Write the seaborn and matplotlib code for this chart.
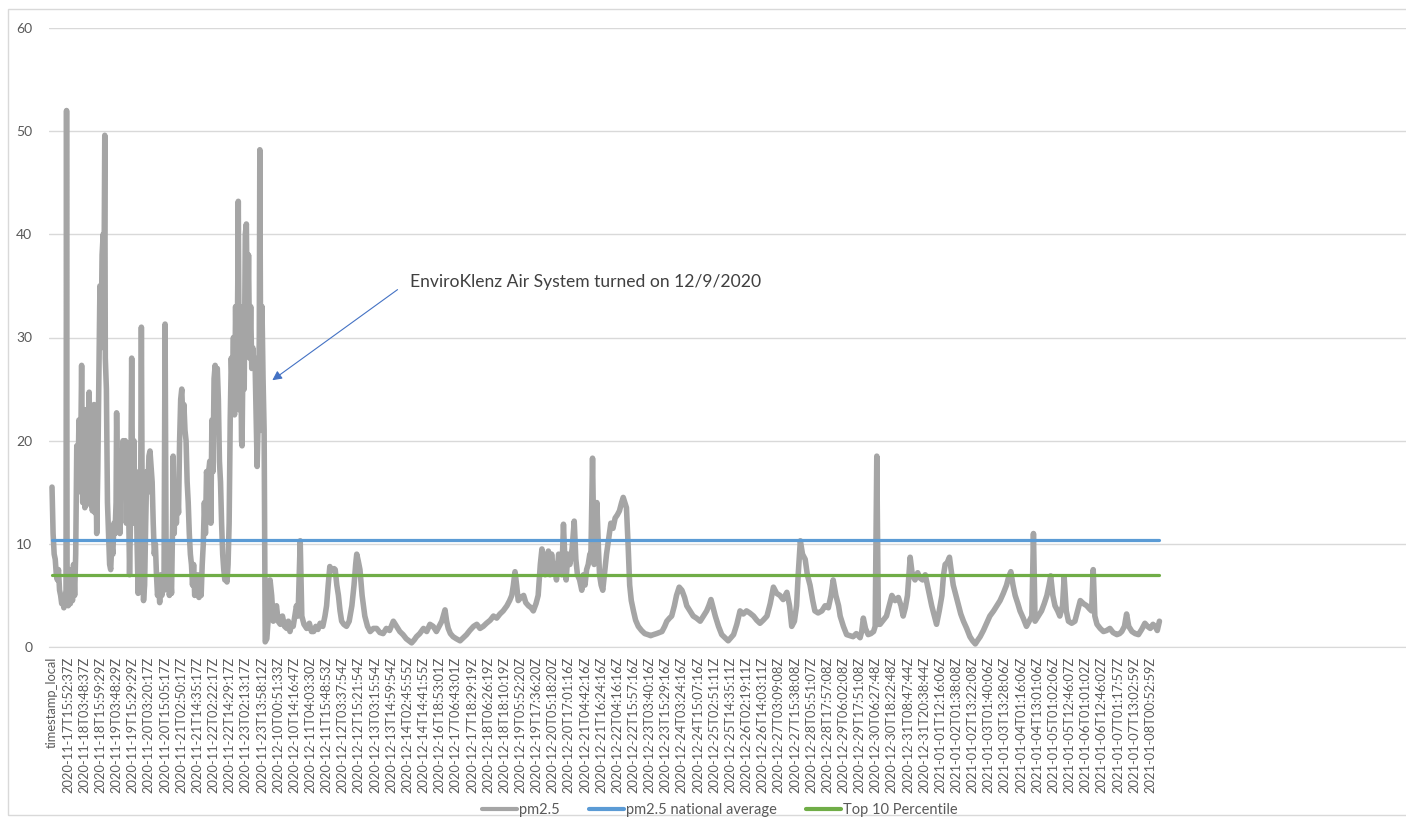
import matplotlib
matplotlib.use('Agg')
import matplotlib.pyplot as plt
from matplotlib.patches import Rectangle
from matplotlib.lines import Line2D
import seaborn as sns
import pandas as pd

# pm2.5 readings as (reading number, value); tick labels every 30 readings
pm25_nov = [
    (0, 15.5), (2, 11), (4, 9), (6, 8.5), (8, 7), (10, 6.5), (12, 7.5), (14, 5.5), (16, 5), (18, 4.2),
    (20, 4.8), (22, 3.8), (24, 4.5), (26, 5.5), (27, 52), (28, 6), (30, 4), (32, 7.5), (34, 4.2), (36, 6.5),
    (38, 4.5), (40, 8), (42, 5), (44, 9), (46, 19.5), (48, 15), (50, 22), (52, 17), (54, 22.5), (55, 27.3),
    (57, 14), (59, 21), (61, 13.5), (63, 23), (65, 14), (67, 21), (69, 24.7), (71, 13.8), (73, 20), (75, 13.2),
    (77, 21), (78, 23.5), (80, 13), (82, 16), (83, 11), (85, 17), (87, 26), (89, 35), (91, 29), (93, 38),
    (95, 40), (96, 30), (98, 49.6), (99, 28), (101, 25), (103, 14), (105, 11), (107, 8), (109, 7.5), (111, 10),
    (113, 9), (115, 12), (117, 11), (119, 14), (120, 22.7), (122, 13), (124, 17), (126, 11), (128, 19), (130, 16),
    (132, 20), (134, 17), (136, 20), (138, 12), (140, 19.8), (142, 15), (144, 7), (146, 13), (148, 28), (150, 12),
    (152, 20), (154, 13), (156, 17), (158, 10), (160, 5.2), (162, 11), (164, 7), (166, 31), (168, 8), (170, 4.5),
    (172, 6), (174, 12), (176, 17), (178, 15), (180, 18.5), (182, 19), (184, 17.5), (186, 16), (188, 12), (190, 9),
    (192, 10), (194, 7), (196, 5), (198, 6), (200, 4.3), (202, 7), (204, 5), (206, 7), (208, 5.5), (210, 31.3),
    (212, 8), (214, 6), (216, 10), (218, 5), (220, 7), (222, 5.2), (224, 12), (225, 18.5), (227, 11), (229, 16),
    (231, 12), (233, 15), (235, 13), (237, 20), (239, 24), (241, 25), (243, 22), (245, 23.5), (247, 21), (249, 20),
    (251, 16), (253, 14), (255, 11), (257, 9), (259, 8), (261, 6), (263, 8), (265, 5), (267, 6.5), (269, 5),
    (271, 7), (273, 4.8), (275, 6), (277, 5), (279, 8), (281, 10), (283, 14), (285, 11), (287, 17), (289, 16),
    (291, 17), (293, 18), (295, 12), (297, 22), (299, 17), (301, 26), (303, 27.3), (305, 26), (307, 27), (309, 24),
    (311, 18), (313, 16), (315, 12), (317, 9), (319, 7.5), (321, 6.5), (323, 7), (325, 6.3), (327, 8), (329, 12),
    (331, 22), (333, 28), (335, 25), (337, 30), (339, 22.5), (341, 33), (343, 24), (345, 35), (346, 43.2), (348, 23),
    (350, 33), (352, 20), (353, 19.5), (355, 30), (357, 25), (359, 40), (361, 41), (363, 30), (365, 38), (367, 28),
    (369, 33), (371, 27), (373, 29), (375, 27), (377, 28), (379, 23), (381, 17.5), (383, 22), (385, 30), (386, 48.2),
    (388, 21), (390, 33), (392, 26), (394, 21), (396, 0.5),
]

pm25_dec = [
    (399, 0.8), (402, 3), (405, 6.5), (408, 5), (411, 2.5), (414, 3.5), (417, 4), (420, 2.5), (424, 2.2), (428, 3),
    (432, 2), (436, 1.8), (439, 2.5), (442, 1.5), (445, 2.2), (448, 2), (451, 3), (454, 4), (457, 3), (461, 10.3),
    (464, 3), (468, 2.2), (473, 1.8), (478, 2.3), (482, 1.5), (486, 1.5), (490, 2), (494, 1.7), (498, 2.3), (503, 2),
    (507, 3), (510, 4), (513, 6), (516, 7.8), (520, 7.4), (524, 7.6), (526, 7.5), (529, 6), (532, 5), (535, 3.5),
    (538, 2.5), (542, 2.2), (547, 2), (552, 2.5), (557, 4), (561, 6), (564, 8), (566, 9), (569, 8.3), (572, 7.5),
    (576, 5), (581, 3), (586, 2), (591, 1.5), (597, 1.8), (603, 1.8), (609, 1.4), (615, 1.3), (621, 1.8), (627, 1.6),
    (634, 2.5), (640, 2), (646, 1.5), (652, 1.2), (658, 0.8), (663, 0.6), (668, 0.4), (673, 0.7), (677, 1), (683, 1.3),
    (690, 1.8), (696, 1.5), (702, 2.2), (708, 2), (714, 1.5), (719, 2), (724, 2.5), (730, 3.6), (733, 2.5), (736, 1.8),
    (740, 1.3), (745, 1), (751, 0.8), (758, 0.6), (764, 0.9), (770, 1.2), (776, 1.6), (783, 2), (789, 2.2), (795, 1.8),
    (801, 2), (807, 2.3), (814, 2.6), (820, 3), (826, 2.8), (832, 3.2), (838, 3.5), (845, 4), (850, 4.5), (854, 5),
    (857, 6), (860, 7.3), (863, 6), (866, 4.5), (871, 4.8), (876, 5), (880, 4.3), (885, 4), (890, 3.8), (894, 3.5),
    (899, 4.2), (903, 5), (907, 8), (910, 9.5), (913, 7.5), (916, 7), (919, 8.5), (922, 9.3), (925, 7), (928, 9),
    (931, 7.5), (934, 8), (937, 6.5), (941, 9), (944, 8.5), (947, 7), (950, 11.9), (953, 8), (955, 6.5), (958, 9),
    (962, 8), (966, 9.5), (970, 12.2), (973, 8.5), (976, 7), (980, 6.5), (984, 5.5), (987, 7), (990, 6), (993, 7.5),
    (996, 8), (999, 9), (1001, 9), (1004, 18.3), (1007, 8), (1009, 10), (1012, 14), (1015, 9.5), (1017, 7), (1020, 6),
    (1023, 5.5), (1026, 7), (1030, 9), (1034, 10.5), (1038, 12), (1042, 11.5), (1046, 12.5), (1050, 12.8), (1054, 13.2),
    (1058, 14), (1061, 14.5), (1064, 14), (1067, 13.5), (1070, 10), (1073, 6), (1076, 4.5), (1080, 3.5), (1084, 2.6),
    (1089, 2), (1095, 1.6), (1101, 1.3), (1107, 1.2), (1112, 1.1), (1117, 1.2), (1123, 1.3), (1128, 1.4), (1133, 1.5),
    (1138, 2), (1142, 2.5), (1147, 2.8), (1151, 3), (1156, 4), (1160, 5), (1165, 5.8), (1170, 5.5), (1175, 4.8),
    (1179, 4), (1185, 3.5), (1191, 3), (1197, 2.8), (1204, 2.5), (1210, 3), (1216, 3.5), (1220, 4), (1224, 4.6),
    (1228, 3.8), (1232, 3), (1238, 2), (1244, 1.2), (1250, 0.9), (1256, 0.6), (1261, 0.9), (1266, 1.2), (1272, 2.2),
    (1278, 3.5), (1284, 3.2), (1290, 3.5), (1296, 3.3), (1303, 3), (1309, 2.6), (1315, 2.3), (1321, 2.6), (1328, 3),
    (1334, 4.2), (1340, 5.8), (1346, 5.2), (1352, 5), (1358, 4.6), (1365, 5.3), (1370, 4), (1374, 2), (1379, 2.5),
    (1383, 4), (1386, 7), (1390, 10.3), (1394, 9), (1399, 8.5), (1403, 7), (1408, 6), (1413, 4.5), (1417, 3.5),
    (1423, 3.3), (1430, 3.5), (1436, 4), (1442, 3.8), (1447, 5), (1451, 6.5), (1456, 5), (1461, 4), (1464, 3),
    (1470, 2),
]

pm25_jan = [
    (1476, 1.2), (1482, 1.1), (1488, 1), (1494, 1.3), (1501, 0.9), (1504, 1.5), (1507, 2.8), (1511, 1.8), (1516, 1.2),
    (1521, 1.3), (1526, 1.5), (1529, 2), (1532, 18.5), (1535, 2.2), (1538, 2.2), (1544, 2.6), (1550, 3), (1555, 4),
    (1560, 5), (1566, 4.5), (1572, 4.8), (1577, 4), (1581, 3), (1585, 3.8), (1589, 5), (1594, 8.7), (1598, 7),
    (1603, 6.5), (1608, 7.2), (1612, 6.7), (1617, 6.5), (1622, 7), (1628, 5.5), (1634, 4), (1639, 3), (1643, 2.2),
    (1648, 3.5), (1653, 5), (1656, 7), (1659, 8), (1663, 8.2), (1667, 8.7), (1670, 7.5), (1674, 6), (1679, 5),
    (1684, 4), (1688, 3.2), (1693, 2.5), (1699, 1.8), (1705, 1), (1710, 0.6), (1715, 0.3), (1720, 0.7), (1724, 1),
    (1730, 1.6), (1736, 2.3), (1742, 3), (1749, 3.5), (1755, 4), (1761, 4.5), (1767, 5.2), (1773, 6), (1777, 6.8),
    (1781, 7.3), (1785, 6), (1789, 5), (1794, 4.2), (1798, 3.5), (1804, 2.8), (1810, 2), (1815, 2.5), (1820, 3),
    (1823, 11), (1826, 2.5), (1832, 3), (1838, 3.5), (1843, 4.2), (1848, 5), (1852, 6), (1855, 6.9), (1859, 5),
    (1863, 4), (1868, 3.5), (1872, 3), (1877, 4), (1880, 6.8), (1884, 3.5), (1888, 2.5), (1894, 2.3), (1900, 2.5),
    (1905, 3.5), (1910, 4.5), (1916, 4.2), (1922, 4), (1927, 3.7), (1931, 3.5), (1934, 7.5), (1937, 3), (1941, 2.2),
    (1947, 1.8), (1953, 1.5), (1959, 1.6), (1965, 1.8), (1971, 1.4), (1978, 1.2), (1983, 1.3), (1987, 1.5), (1992, 2),
    (1996, 3.2), (2000, 2), (2006, 1.5), (2012, 1.3), (2018, 1.2), (2024, 1.7), (2030, 2.3), (2035, 2), (2040, 1.8),
    (2045, 2.2), (2049, 2), (2053, 1.6), (2057, 2.5),
]

national_average = 10.4
top10_percentile = 7.0

tick_labels = [
    'timestamp_local',
    '2020-11-17T15:52:37Z', '2020-11-18T03:48:37Z', '2020-11-18T15:59:29Z', '2020-11-19T03:48:29Z',
    '2020-11-19T15:29:29Z', '2020-11-20T03:20:17Z', '2020-11-20T15:05:17Z', '2020-11-21T02:50:17Z',
    '2020-11-21T14:35:17Z', '2020-11-22T02:22:17Z', '2020-11-22T14:29:17Z', '2020-11-23T02:13:17Z',
    '2020-11-23T13:58:12Z', '2020-12-10T00:51:33Z', '2020-12-10T14:16:47Z', '2020-12-11T04:03:30Z',
    '2020-12-11T15:48:53Z', '2020-12-12T03:37:54Z', '2020-12-12T15:21:54Z', '2020-12-13T03:15:54Z',
    '2020-12-13T14:59:54Z', '2020-12-14T02:45:55Z', '2020-12-14T14:41:55Z', '2020-12-16T18:53:01Z',
    '2020-12-17T06:43:01Z', '2020-12-17T18:29:19Z', '2020-12-18T06:26:19Z', '2020-12-18T18:10:19Z',
    '2020-12-19T05:52:20Z', '2020-12-19T17:36:20Z', '2020-12-20T05:18:20Z', '2020-12-20T17:01:16Z',
    '2020-12-21T04:42:16Z', '2020-12-21T16:24:16Z', '2020-12-22T04:16:16Z', '2020-12-22T15:57:16Z',
    '2020-12-23T03:40:16Z', '2020-12-23T15:29:16Z', '2020-12-24T03:24:16Z', '2020-12-24T15:07:16Z',
    '2020-12-25T02:51:11Z', '2020-12-25T14:35:11Z', '2020-12-26T02:19:11Z', '2020-12-26T14:03:11Z',
    '2020-12-27T03:09:08Z', '2020-12-27T15:38:08Z', '2020-12-28T05:51:07Z', '2020-12-28T17:57:08Z',
    '2020-12-29T06:02:08Z', '2020-12-29T17:51:08Z', '2020-12-30T06:27:48Z', '2020-12-30T18:22:48Z',
    '2020-12-31T08:47:44Z', '2020-12-31T20:38:44Z', '2021-01-01T12:16:06Z', '2021-01-02T01:38:08Z',
    '2021-01-02T13:22:08Z', '2021-01-03T01:40:06Z', '2021-01-03T13:28:06Z', '2021-01-04T01:16:06Z',
    '2021-01-04T13:01:06Z', '2021-01-05T01:02:06Z', '2021-01-05T12:46:07Z', '2021-01-06T01:01:02Z',
    '2021-01-06T12:46:02Z', '2021-01-07T01:17:57Z', '2021-01-07T13:02:59Z', '2021-01-08T00:52:59Z',
]
label_every = 30

df = pd.DataFrame(pm25_nov + pm25_dec + pm25_jan, columns=['reading', 'pm2.5'])
x_first, x_last = df['reading'].min(), df['reading'].max()

sns.set_style('white')
plt.rcParams['font.family'] = ['Lato', 'DejaVu Sans']

grey, blue, green = '#A5A5A5', '#5B9BD5', '#70AD47'
text_col = '#595959'

fig = plt.figure(figsize=(14.06, 8.27), dpi=100)
ax = fig.add_axes([49 / 1406, 1 - 647 / 827, 1 - 49 / 1406, (647 - 28) / 827])

sns.lineplot(data=df, x='reading', y='pm2.5', ax=ax, color=grey, linewidth=4, zorder=3)
sns.lineplot(x=[x_first, x_last], y=[national_average] * 2, ax=ax, color=blue, linewidth=2.3, zorder=4)
sns.lineplot(x=[x_first, x_last], y=[top10_percentile] * 2, ax=ax, color=green, linewidth=2.3, zorder=4)

ax.set_xlim(-5.6, 2515)
ax.set_ylim(0, 60)
ax.set_yticks(range(0, 61, 10))
ax.set_xticks([i * label_every for i in range(len(tick_labels))])
ax.set_xticklabels(tick_labels, rotation=90, fontsize=9.3, color=text_col)
ax.tick_params(axis='x', length=0, pad=7)
ax.tick_params(axis='y', length=0, pad=12, labelsize=10, labelcolor=text_col)
ax.yaxis.grid(True, color='#D9D9D9', linewidth=1)
ax.set_axisbelow(True)
for s in ['top', 'right', 'left']:
    ax.spines[s].set_visible(False)
ax.spines['bottom'].set_color('#D9D9D9')
ax.set_xlabel('')
ax.set_ylabel('')

# annotation with arrow
ax.annotate('', xy=(405, 25.7), xytext=(646, 34.8),
            arrowprops=dict(arrowstyle='-|>', color='#4472C4', lw=0.8, mutation_scale=14))
ax.text(665, 35.4, 'EnviroKlenz Air System turned on 12/9/2020', fontsize=12.6,
        color='#404040', va='center', ha='left')

handles = [Line2D([], [], color=c, linewidth=3) for c in (grey, blue, green)]
fig.legend(handles, ['pm2.5', 'pm2.5 national average', 'Top 10 Percentile'],
           loc='center', bbox_to_anchor=(0.512, 1 - 810 / 827), ncol=3, frameon=False,
           fontsize=10.5, labelcolor=text_col, handlelength=2.4, handletextpad=0.15,
           columnspacing=2.0)

# chart area border
fig.patches.append(Rectangle((8 / 1406, 12 / 827), 1.0, 1 - 21 / 827, transform=fig.transFigure,
                             fill=False, edgecolor='#D9D9D9', linewidth=1))

fig.savefig('out.png', dpi=100)
